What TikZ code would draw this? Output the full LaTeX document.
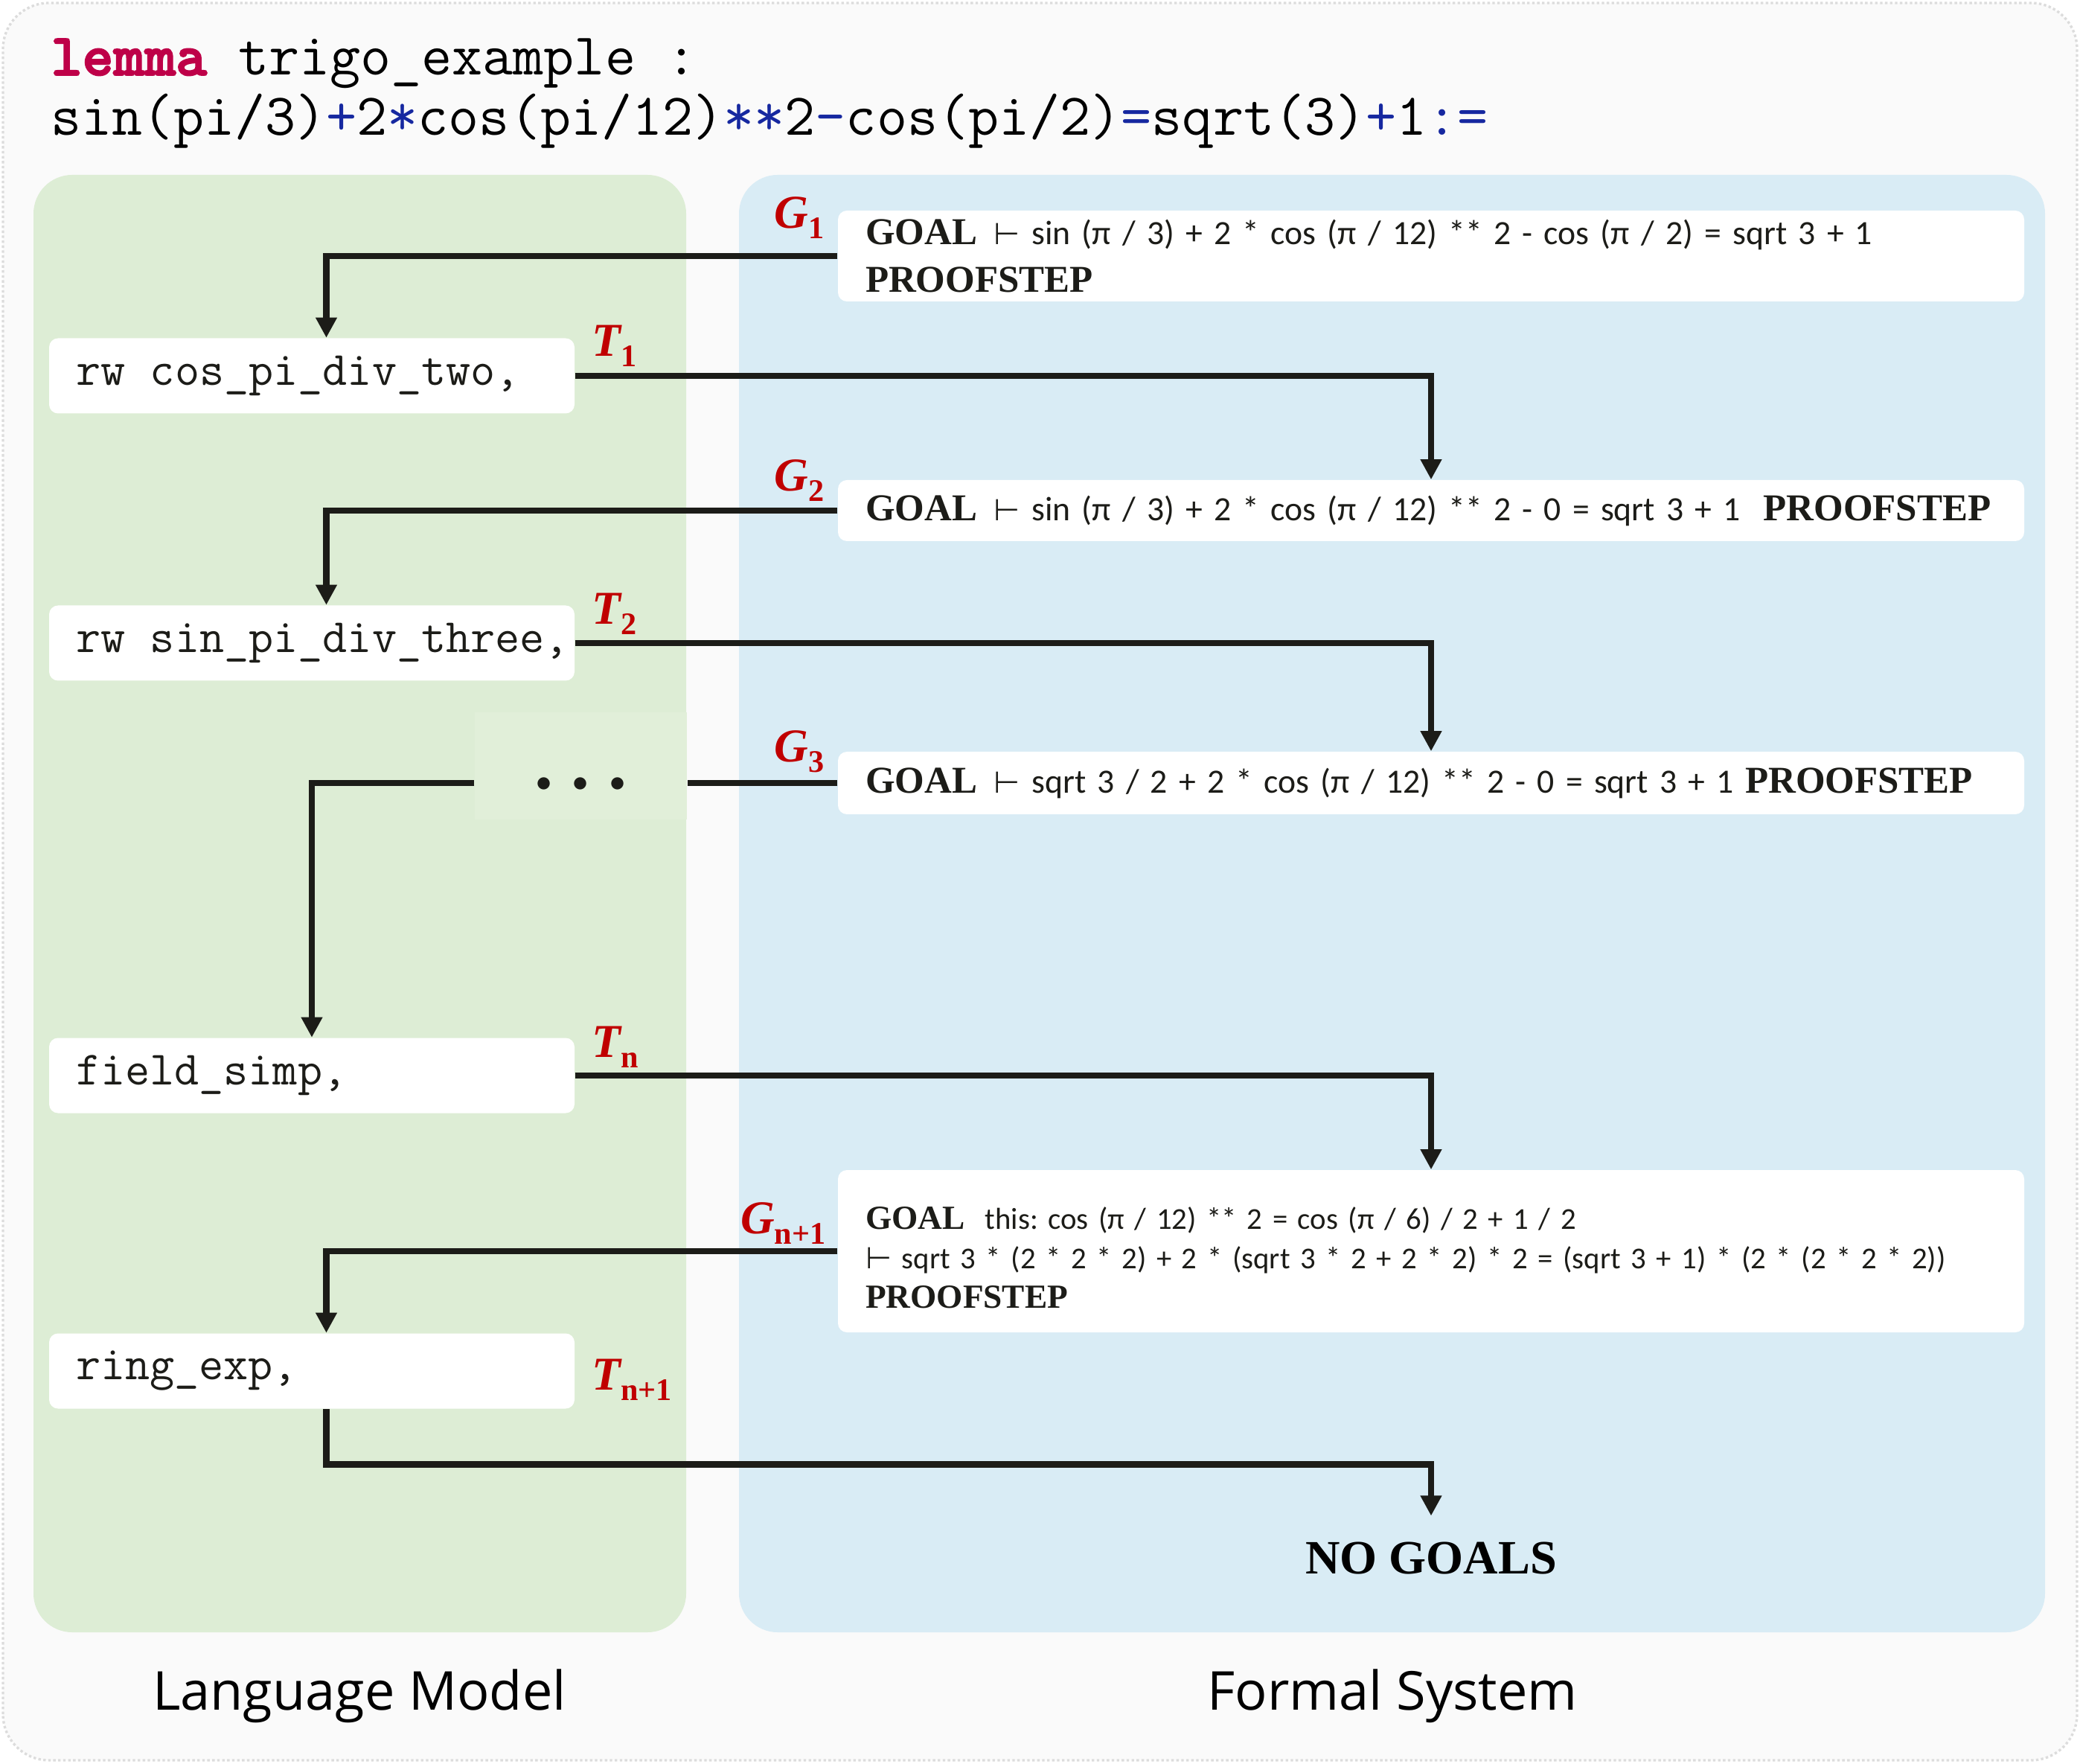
\documentclass[tikz,border=0pt]{standalone}
\usepackage{fontspec}
\usepackage{xcolor}
\usepackage{tikz}
\usetikzlibrary{arrows.meta, positioning}

\newfontfamily\serfont{Liberation Serif}
\newfontfamily\calfont{Carlito}
\newfontfamily\uifont{Open Sans}
\newfontfamily\turnfont{DejaVu Sans}
\newfontfamily\kwfont{lmmonolt10-bold.otf}[FakeBold=2.5]

\definecolor{pagebg}{RGB}{250,250,250}
\definecolor{rimgray}{RGB}{220,220,220}
\definecolor{lmgreen}{RGB}{221,237,213}
\definecolor{dotsgreen}{RGB}{225,239,217}
\definecolor{fsblue}{RGB}{217,236,245}
\definecolor{ink}{RGB}{28,28,24}
\definecolor{stepred}{RGB}{192,0,0}
\definecolor{kwred}{RGB}{190,0,72}
\definecolor{opblue}{RGB}{22,40,160}

\newcommand{\opc}[1]{\textcolor{opblue}{#1}}
\newcommand{\ttspc}{\spaceskip=0.525em\relax}
\newcommand{\gkw}[1][14.5]{\mbox{\serfont\bfseries\fontsize{#1}{18}\selectfont GOAL}}
\newcommand{\pkw}[1][14.5]{\mbox{\serfont\bfseries\fontsize{#1}{18}\selectfont PROOFSTEP}}
\newcommand{\tstile}{{\turnfont\fontsize{11.5}{15}\selectfont ⊢}}
\newcommand{\stepname}[2]{{\serfont\bfseries\itshape #1}\raisebox{-4pt}{\serfont\bfseries\fontsize{12}{12}\selectfont #2}}

\begin{document}
\begin{tikzpicture}[
  hdr/.style={anchor=base west, inner sep=0pt, font=\ttfamily\fontsize{22.7}{26}\selectfont},
  tacbox/.style={rectangle, rounded corners=1.2mm, fill=white, text=ink, minimum height=10.1mm, text width=63.4mm, inner xsep=3.6mm, align=left, font=\ttfamily\fontsize{18.3}{21}\selectfont},
  goalbox/.style={rectangle, rounded corners=1.2mm, fill=white, text=ink, text width=152mm, inner xsep=3.7mm, inner ysep=1mm, align=left, font=\calfont\fontsize{13}{18}\selectfont\frenchspacing},
  steplbl/.style={inner sep=0pt, text=stepred, font=\fontsize{18}{18}\selectfont},
  flow/.style={-{Triangle[length=7.7pt, width=7.7pt]}, line width=2.4pt, draw=ink},
  caption/.style={anchor=base, font=\uifont\fontsize{20.5}{24}\selectfont}
]

% -- canvas and the two panels --
\useasboundingbox (0,0) rectangle (27.95,23.69);
\fill[white] (0,0) rectangle (27.95,23.69);
\draw[rimgray, fill=pagebg, line width=0.95pt, dash pattern=on 0.95pt off 0.95pt, rounded corners=6.2mm] (0.04,0.04) rectangle (27.91,23.65);
\fill[lmgreen, rounded corners=5.2mm] (0.45,1.76) rectangle (9.22,21.34);
\fill[fsblue, rounded corners=5.2mm] (9.93,1.76) rectangle (27.48,21.34);

% -- lemma statement --
\node[hdr] (hdr1) at (0.68,22.68) {\ttspc\textcolor{kwred}{\kwfont lemma} trigo\_example :};
\node[hdr] (hdr2) at (0.68,21.87) {sin(pi/3)\opc{+}2\opc{*}cos(pi/12)\opc{**}2\opc{-}cos(pi/2)\opc{=}sqrt(3)\opc{+}1\opc{:=}};

% -- language model side: tactics --
\node[tacbox] (t1) at (4.19,18.64) {\mbox{\ttspc rw cos\_pi\_div\_two,}};
\node[tacbox] (t2) at (4.19,15.05) {\mbox{\ttspc rw sin\_pi\_div\_three,}};
\node[fill=dotsgreen, minimum width=28.5mm, inner ysep=0pt, text height=10.65mm, text depth=3.75mm, anchor=base, text=ink] (dots) at (7.805,13.055) {\fontsize{12}{12}\selectfont$\bullet$\hspace{8.2pt}$\bullet$\hspace{8.2pt}$\bullet$};
\node[tacbox] (tn) at (4.19,9.24) {field\_simp,};
\node[tacbox] (tm) at (4.19,5.27) {ring\_exp,};

% -- formal system side: goals --
\node[goalbox, minimum height=12.2mm] (g1) at (19.23,20.25) {\gkw\hspace{6.5pt}\tstile\ sin (π / 3) + 2 * cos (π / 12) ** 2 - cos (π / 2) = sqrt 3 + 1\\\pkw};
\node[goalbox, minimum height=8.2mm] (g2) at (19.23,16.83) {\gkw\hspace{6.5pt}\tstile\ sin (π / 3) + 2 * cos (π / 12) ** 2 - 0 = sqrt 3 + 1\ \ \pkw};
\node[goalbox, minimum height=8.4mm] (g3) at (19.23,13.17) {\gkw\hspace{6.5pt}\tstile\ sqrt 3 / 2 + 2 * cos (π / 12) ** 2 - 0 = sqrt 3 + 1 \pkw};
\node[goalbox, minimum height=21.8mm, font=\calfont\fontsize{11.6}{15}\selectfont\frenchspacing] (gm) at (19.23,6.88) {\rule{0pt}{13.5pt}\gkw[12.9]\ \ this: cos (π / 12) ** 2 = cos (π / 6) / 2 + 1 / 2\\\mbox{\tstile\ sqrt 3 * (2 * 2 * 2) + 2 * (sqrt 3 * 2 + 2 * 2) * 2 = (sqrt 3 + 1) * (2 * (2 * 2 * 2))}\\\pkw[12.9]};
\node[inner xsep=0pt, inner ysep=10pt, text=black, font=\serfont\bfseries\fontsize{18.3}{20}\selectfont] (nogoals) at (19.23,2.75) {NO GOALS};

% -- step labels --
\node[steplbl, anchor=east] (lg1) at (11.08,20.76) {\stepname{G}{1}};
\node[steplbl, anchor=west] (lt1) at (7.95,19.04) {\stepname{T}{1}};
\node[steplbl, anchor=east] (lg2) at (11.08,17.23) {\stepname{G}{2}};
\node[steplbl, anchor=west] (lt2) at (7.95,15.44) {\stepname{T}{2}};
\node[steplbl, anchor=east] (lg3) at (11.08,13.59) {\stepname{G}{3}};
\node[steplbl, anchor=west] (ltn) at (7.95,9.62) {\stepname{T}{n}};
\node[steplbl, anchor=east] (lgm) at (11.10,7.25) {\stepname{G}{n+1}};
\node[steplbl, anchor=west] (ltm) at (7.95,5.15) {\stepname{T}{n+1}};

% -- flow between the two sides --
\draw[flow] (g1.west) -| ([xshift=1.95mm]t1.north);
\draw[flow] (t1.east) -| (g2.north);
\draw[flow] (g2.west) -| ([xshift=1.95mm]t2.north);
\draw[flow] (t2.east) -| (g3.north);
\draw[line width=2.4pt, ink] (g3.west) -- (g3.west -| dots.east);
\draw[flow] (dots.west |- g3.west) -| (tn.north);
\draw[flow] (tn.east) -| (gm.north);
\draw[flow] (gm.west) -| ([xshift=1.95mm]tm.north);
\draw[flow] ([xshift=1.95mm]tm.south) -- ++(0,-0.745) -| (nogoals.north);

% -- captions --
\node[caption] (lmcap) at (4.83,0.72) {Language Model};
\node[caption] (fscap) at (18.71,0.72) {Formal System};

\end{tikzpicture}
\end{document}
